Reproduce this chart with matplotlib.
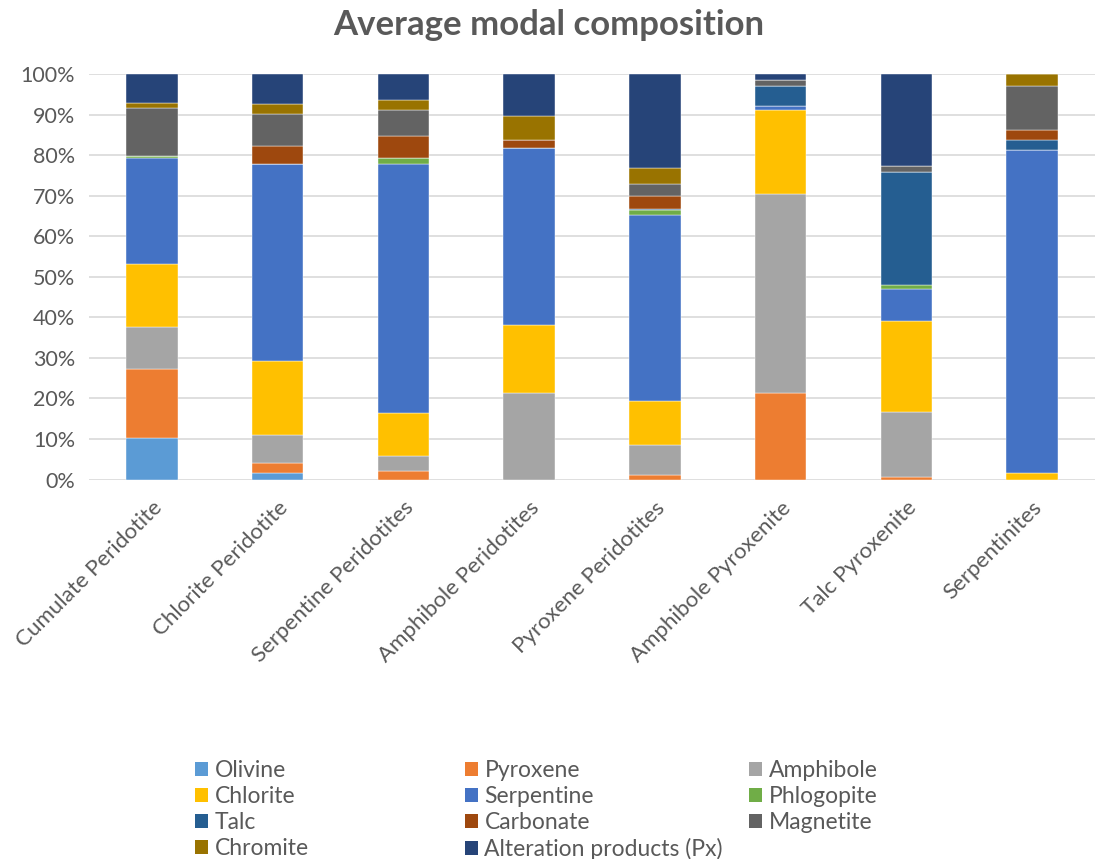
import matplotlib
matplotlib.use("Agg")
import matplotlib.pyplot as plt
from matplotlib.patches import Patch
from matplotlib.ticker import PercentFormatter
import numpy as np

plt.rcParams['font.family'] = ['Lato', 'DejaVu Sans']

rock_types = ["Cumulate Peridotite", "Chlorite Peridotite", "Serpentine Peridotites",
              "Amphibole Peridotites", "Pyroxene Peridotites", "Amphibole Pyroxenite",
              "Talc Pyroxenite", "Serpentinites"]

# modal percentages per mineral, one value per rock type
olivine    = [10.3, 1.5, 0.0, 0.0, 0.0, 0.0, 0.0, 0.0]
pyroxene   = [16.9, 2.5, 2.1, 0.0, 1.0, 21.3, 0.6, 0.0]
amphibole  = [10.3, 6.9, 3.8, 21.3, 7.4, 49.0, 16.1, 0.0]
chlorite   = [15.6, 18.4, 10.4, 16.8, 11.0, 20.9, 22.5, 1.5]
serpentine = [26.1, 48.5, 61.5, 43.7, 45.9, 0.8, 7.8, 79.8]
phlogopite = [0.7, 0.0, 1.4, 0.0, 1.1, 0.0, 1.0, 0.0]
talc       = [0.0, 0.0, 0.0, 0.0, 0.4, 5.1, 27.9, 2.4]
carbonate  = [0.0, 4.5, 5.5, 1.9, 3.1, 0.0, 0.0, 2.5]
magnetite  = [11.8, 7.9, 6.5, 0.0, 2.9, 1.5, 1.4, 10.9]
chromite   = [1.1, 2.5, 2.4, 6.0, 3.9, 0.0, 0.0, 2.9]
alteration = [7.2, 7.3, 6.4, 10.3, 23.3, 1.4, 22.7, 0.0]

mineral_names = ["Olivine", "Pyroxene", "Amphibole", "Chlorite", "Serpentine",
                 "Phlogopite", "Talc", "Carbonate", "Magnetite", "Chromite",
                 "Alteration products (Px)"]
mineral_values = [olivine, pyroxene, amphibole, chlorite, serpentine, phlogopite,
                  talc, carbonate, magnetite, chromite, alteration]
mineral_colors = ["#5B9BD5", "#ED7D31", "#A5A5A5", "#FFC000", "#4472C4", "#70AD47",
                  "#255E91", "#9E480E", "#636363", "#997300", "#264478"]

text_gray = "#595959"

fig = plt.figure(figsize=(10.98, 8.59), dpi=100)
ax = fig.add_axes([89 / 1098, 1 - 479.5 / 859, 1006 / 1098, 405.5 / 859])

x = np.arange(len(rock_types))
bottom = np.zeros(len(rock_types))
for name, vals, col in zip(mineral_names, mineral_values, mineral_colors):
    v = np.array(vals)
    ax.bar(x, v, 0.41, bottom=bottom, color=col, label=name,
           edgecolor="#ffffff", linewidth=0.3, zorder=3)
    bottom += v

ax.set_xlim(-0.5, len(rock_types) - 0.5)
ax.set_ylim(0, 100)
ax.set_yticks(np.arange(0, 101, 10))
ax.yaxis.set_major_formatter(PercentFormatter(decimals=0))
ax.grid(axis="y", color="#D9D9D9", linewidth=1.2, zorder=0)
for s in ax.spines.values():
    s.set_visible(False)
ax.tick_params(axis="both", length=0, colors=text_gray)
ax.tick_params(axis="y", pad=10, labelsize=15.5)
ax.set_xticks(x)
ax.set_xticklabels(rock_types, rotation=45, ha="right", rotation_mode="anchor")
ax.tick_params(axis="x", pad=13, labelsize=16)

fig.text(0.5, 1 - 25 / 859, "Average modal composition", ha="center", va="center",
         fontsize=25, fontweight="bold", color=text_gray)

# legend laid out in three fixed-width columns, filled row by row
columns = [[0, 3, 6, 9], [1, 4, 7, 10], [2, 5, 8]]
col_left = [195 / 1098, 465 / 1098, 749 / 1098]
for idxs, left in zip(columns, col_left):
    handles = [Patch(facecolor=mineral_colors[i], edgecolor="none") for i in idxs]
    labels = [mineral_names[i] for i in idxs]
    fig.legend(handles, labels, loc="upper left", bbox_to_anchor=(left, 1 - 760 / 859),
               frameon=False, fontsize=16.5, labelcolor=text_gray,
               handlelength=0.55, handleheight=0.55, handletextpad=0.3,
               labelspacing=0.22, borderpad=0, borderaxespad=0)

fig.savefig("out.png", dpi=100)
